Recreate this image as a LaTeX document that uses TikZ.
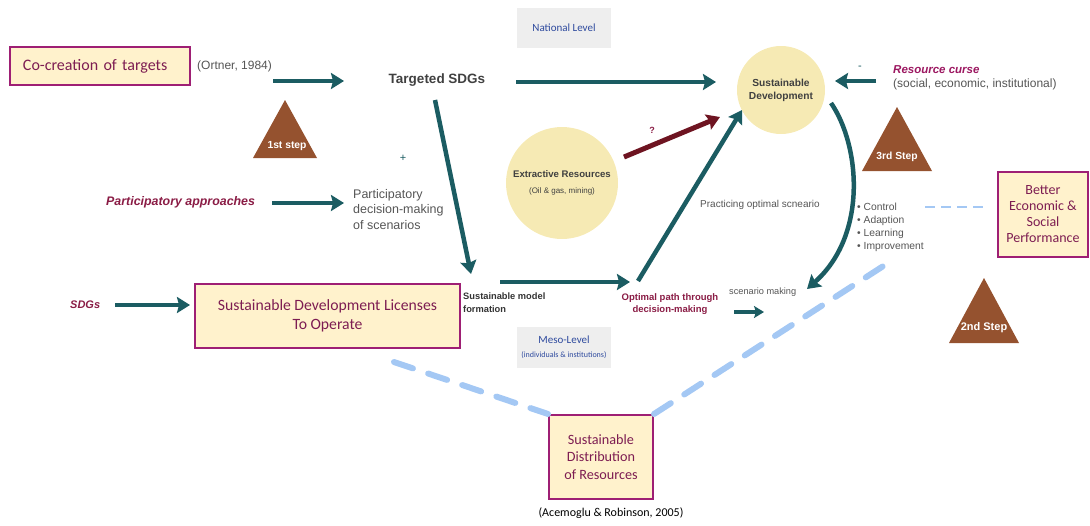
\documentclass[tikz,border=0pt]{standalone}
\usepackage{fontspec}
\setmainfont{Liberation Sans}
\newfontfamily\carl{Carlito}
\usetikzlibrary{arrows.meta}
\definecolor{teal}{HTML}{1B5C62}
\definecolor{brownT}{HTML}{95522F}
\definecolor{maroon}{HTML}{8A1C45}
\definecolor{boxtext}{HTML}{7D1D52}
\definecolor{boxborder}{HTML}{9E1F74}
\definecolor{boxfill}{HTML}{FFF2CC}
\definecolor{circfill}{HTML}{F6EAB4}
\definecolor{darkred}{HTML}{6E1421}
\definecolor{lblue}{HTML}{A4C8F4}
\definecolor{graytext}{HTML}{555555}
\definecolor{levelblue}{HTML}{2E4A9E}
\definecolor{levelgray}{HTML}{EEEEEE}
\newcommand{\fsz}[1]{\fontsize{#1}{#1}\selectfont}
\begin{document}
\begin{tikzpicture}[x=1pt,y=-1pt,
  box/.style={draw=boxborder, line width=2pt, fill=boxfill, text=boxtext, align=center, inner sep=0pt},
  levelbox/.style={fill=levelgray, text=levelblue, align=center, inner sep=0pt, font=\carl\fsz{11}},
  circ/.style={circle, fill=circfill, align=center, inner sep=0pt, text=black!75},
  tarrow/.style={draw=teal, line width=4.5pt, -{Stealth[length=13pt,width=16pt,inset=2pt]}},
  gtext/.style={text=graytext, inner sep=0pt},
  mlabel/.style={text=maroon, inner sep=0pt, font=\bfseries\itshape\fsz{12.4}},
  steptext/.style={text=white, inner sep=0pt, font=\bfseries\fsz{10.3}},
  tri/.style={fill=brownT},
  bluedash/.style={draw=lblue, line width=6pt, dash pattern=on 20pt off 16pt, line cap=round},
  thindash/.style={draw=lblue, line width=2.5pt, dash pattern=on 10pt off 6pt}
]
\useasboundingbox (0,0) rectangle (1090,525);

% level boxes
\node[levelbox, minimum width=94pt, minimum height=40pt] (natl) at (564,28) {National Level};
\node[levelbox, minimum width=94pt, minimum height=41pt] (meso) at (564,347.5) {\fsz{11}Meso-Level\\[3pt]{\fsz{8}(individuals \& institutions)}};

% circles
\node[circ, minimum size=88pt, font=\bfseries\fsz{10.2}] (sd) at (781,90) {Sustainable\\[3pt]Development};
\node[circ, minimum size=112pt] (ext) at (562,183) {{\bfseries\fsz{9.6}Extractive Resources}\\[4pt]{\fsz{8}(Oil \& gas, mining)}};

% boxes
\node[box, minimum width=180pt, minimum height=38pt, text width=154pt, align=left, font=\carl\fsz{16}] (cocre) at (100,66) {Co-creation of targets};
\node[box, minimum width=265pt, minimum height=64pt, font=\carl\fsz{15.7}] (lic) at (327.5,316) {Sustainable Development Licenses\\[3pt]To Operate};
\node[box, minimum width=90pt, minimum height=85pt, font=\carl\fsz{14}] (better) at (1043,214.5) {Better\\[2pt]Economic \&\\[2pt]Social\\[2pt]Performance};
\node[box, minimum width=104pt, minimum height=84pt, font=\carl\fsz{14.2}] (dist) at (601,457) {Sustainable\\[3pt]Distribution\\[3pt]of Resources};

% texts
\node[gtext, anchor=west, font=\fsz{12}] (ortner) at (197,66) {(Ortner, 1984)};
\node[text=black!75, inner sep=0pt, font=\bfseries\fsz{13.5}] (tsdg) at (437,80) {Targeted SDGs};
\node[mlabel, anchor=west] (papp) at (106,202) {Participatory approaches};
\node[gtext, anchor=north west, align=left, font=\fsz{12.5}] (pdm) at (353,189) {Participatory\\[3pt]decision-making\\[3pt]of scenarios};
\node[mlabel, anchor=west, font=\bfseries\itshape\fsz{11.5}] (rc) at (893,70) {\color{maroon!85!magenta}Resource curse};
\node[gtext, anchor=west, font=\fsz{12}] (rcsub) at (893,84) {(social, economic, institutional)};
\node[text=teal, inner sep=0pt, font=\fsz{11}] (minus) at (860,68) {-};
\node[text=teal, inner sep=0pt, font=\fsz{11}] (plus) at (403,158) {+};
\node[text=maroon, inner sep=0pt, font=\bfseries\fsz{9}] (qm) at (652,130) {?};
\node[gtext, anchor=west, font=\fsz{10}] (prac) at (700,205) {Practicing optimal scneario};
\node[text=black!80, anchor=north west, align=left, inner sep=0pt, font=\bfseries\fsz{9.3}] (smf) at (463,293) {Sustainable model\\[3pt]formation};
\node[text=maroon, align=center, inner sep=0pt, font=\bfseries\fsz{9.5}] (opt) at (670,304) {Optimal path through\\[2.5pt]decision-making};
\node[gtext, anchor=west, font=\fsz{9.2}] (scen) at (729,292) {scenario making};
\node[gtext, anchor=north west, align=left, font=\fsz{10.3}] (list) at (857,203) {\textbullet\ Control\\[2.7pt]\textbullet\ Adaption\\[2.7pt]\textbullet\ Learning\\[2.7pt]\textbullet\ Improvement};
\node[mlabel, anchor=west, font=\bfseries\itshape\fsz{11}] (sdgs) at (70,305) {SDGs};
\node[inner sep=0pt, font=\carl\fsz{12}] (acem) at (611,513) {(Acemoglu \& Robinson, 2005)};

% triangles
\fill[tri] (285,100) -- (317,158) -- (253,158) -- cycle;
\node[steptext] (s1) at (287,146) {1st step};
\fill[tri] (897,107) -- (932,171) -- (862,171) -- cycle;
\node[steptext] (s3) at (897,157) {3rd Step};
\fill[tri] (984,278) -- (1019,343) -- (949,343) -- cycle;
\node[steptext, font=\bfseries\fsz{11}] (s2) at (984,328) {2nd Step};

% coordinates
\coordinate (a1s) at (273,81); \coordinate (a1e) at (344,81);
\coordinate (a2s) at (516,82); \coordinate (a2e) at (716,82);
\coordinate (a3s) at (876,81); \coordinate (a3e) at (835,81);
\coordinate (a4s) at (435,100); \coordinate (a4e) at (471,274);
\coordinate (a5s) at (272,203); \coordinate (a5e) at (344,203);
\coordinate (a6s) at (115,305); \coordinate (a6e) at (190,305);
\coordinate (a7s) at (500,282); \coordinate (a7e) at (630,282);
\coordinate (a8s) at (638,281); \coordinate (a8e) at (742,110);
\coordinate (a9s) at (624,157); \coordinate (a9e) at (720,117);
\coordinate (a10s) at (734,312); \coordinate (a10e) at (764,312);
\coordinate (c1s) at (831,103); \coordinate (c1e) at (807,289);
\coordinate (d1s) at (925,207); \coordinate (d1e) at (983,207);
\coordinate (d2s) at (394,362); \coordinate (d3e) at (888,263);

% arrows
\draw[tarrow] (a1s) -- (a1e);
\draw[tarrow] (a2s) -- (a2e);
\draw[tarrow] (a3s) -- (a3e);
\draw[tarrow] (a4s) -- (a4e);
\draw[tarrow] (a5s) -- (a5e);
\draw[tarrow] (a6s) -- (a6e);
\draw[tarrow] (a7s) -- (a7e);
\draw[tarrow] (a8s) -- (a8e);
\draw[tarrow, draw=darkred, line width=5pt] (a9s) -- (a9e);
\draw[tarrow, line width=3.5pt, -{Stealth[length=10pt,width=12pt,inset=2pt]}] (a10s) -- (a10e);
\draw[tarrow] (c1s) .. controls (860,145) and (868,235) .. (c1e);

% dashed
\draw[thindash] (d1s) -- (d1e);
\draw[bluedash] (d2s) -- (dist.north west);
\draw[bluedash] (dist.north east) -- (d3e);
\end{tikzpicture}
\end{document}
